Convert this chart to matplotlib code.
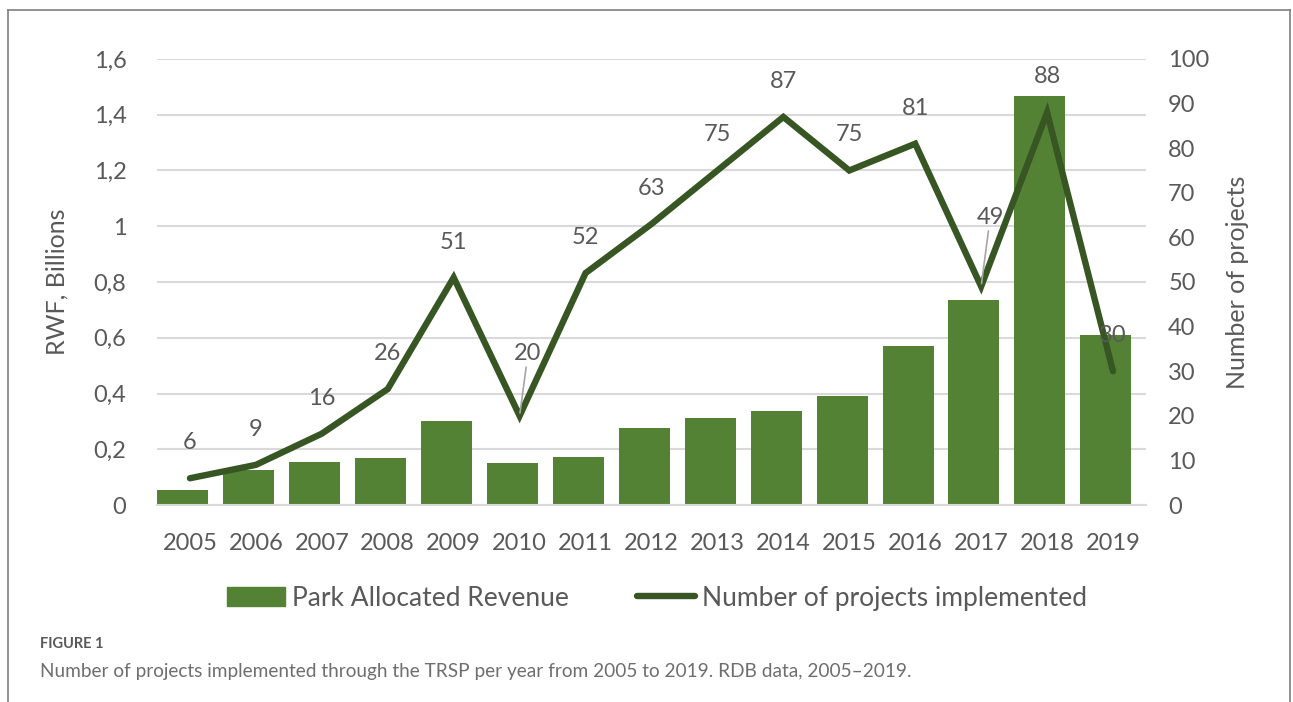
import matplotlib.pyplot as plt
from matplotlib.lines import Line2D
from matplotlib.patches import Patch
from matplotlib.ticker import FuncFormatter

plt.rcParams['font.family'] = ['Lato', 'DejaVu Sans']

years = ['2005', '2006', '2007', '2008', '2009', '2010', '2011', '2012',
         '2013', '2014', '2015', '2016', '2017', '2018', '2019']
revenue = [0.054, 0.126, 0.154, 0.169, 0.301, 0.151, 0.172, 0.276,
           0.312, 0.337, 0.391, 0.570, 0.735, 1.467, 0.610]
projects = [6, 9, 16, 26, 51, 20, 52, 63, 75, 87, 75, 81, 49, 88, 30]

bar_color = '#548235'
line_color = '#375623'
text_color = '#595959'
grid_color = '#d9d9d9'

fig = plt.figure(figsize=(12.93, 7.02), dpi=100)
rect = [0.1214, 0.2806, 0.7649, 0.6354]

# bars (primary axis) - slightly shifted left like the original Excel chart
ax = fig.add_axes(rect)
x = range(len(years))
ax.bar(x, revenue, width=0.773, color=bar_color, zorder=2)
ax.set_ylim(0, 1.6)
ax.set_xlim(-0.391, len(years) - 0.391)
ax.set_yticks([0, 0.2, 0.4, 0.6, 0.8, 1.0, 1.2, 1.4, 1.6])
ax.yaxis.set_major_formatter(FuncFormatter(
    lambda v, p: '0' if v == 0 else ('1' if abs(v - 1) < 1e-9 else f'{v:.1f}'.replace('.', ','))))
ax.set_xticks([])
ax.grid(axis='y', color=grid_color, linewidth=1.5, zorder=0)
ax.set_axisbelow(True)
for s in ['top', 'right', 'left']:
    ax.spines[s].set_visible(False)
ax.spines['bottom'].set_color(grid_color)
ax.spines['bottom'].set_linewidth(1.5)
ax.tick_params(axis='both', length=0, labelsize=17, labelcolor=text_color)
ax.tick_params(axis='y', pad=22)
ax.set_ylabel('RWF, Billions', fontsize=18, color=text_color, labelpad=18)

# line (secondary axis)
ax2 = fig.add_axes(rect)
ax2.patch.set_visible(False)
ax2.plot(x, projects, color=line_color, linewidth=4.6, solid_joinstyle='miter',
         solid_capstyle='round', zorder=3)
ax2.set_xlim(-0.5, len(years) - 0.5)
ax2.set_ylim(0, 100)
ax2.set_yticks(range(0, 101, 10))
ax2.set_xticks(list(x))
ax2.set_xticklabels(years)
ax2.yaxis.tick_right()
ax2.yaxis.set_label_position('right')
for s in ['top', 'right', 'left', 'bottom']:
    ax2.spines[s].set_visible(False)
ax2.tick_params(axis='both', length=0, labelsize=17, labelcolor=text_color)
ax2.tick_params(axis='y', pad=16)
ax2.tick_params(axis='x', pad=20)
ax2.set_ylabel('Number of projects', fontsize=18, color=text_color, labelpad=12)

leader = {5: (6, 37), 12: (6.5, 42)}
for i, v in enumerate(projects):
    if i in leader:
        dx, dy = leader[i]
        ax2.annotate(str(v), (i, v), xytext=(dx, dy), textcoords='offset points',
                     ha='center', va='bottom', fontsize=17, color=text_color,
                     arrowprops=dict(arrowstyle='-', color='#a6a6a6', lw=1.2,
                                     shrinkA=0, shrinkB=2))
    else:
        ax2.annotate(str(v), (i, v), xytext=(0, 18), textcoords='offset points',
                     ha='center', va='bottom', fontsize=17, color=text_color)

handles = [Patch(color=bar_color),
           Line2D([0], [0], color=line_color, linewidth=4.6, solid_capstyle='round')]
fig.legend(handles, ['Park Allocated Revenue', 'Number of projects implemented'],
           loc='center', bbox_to_anchor=(0.508, 0.148), ncol=2, frameon=False,
           fontsize=19, labelcolor=text_color, handlelength=2.2, handletextpad=0.25,
           columnspacing=2.6)

fig.text(0.031, 0.077, 'FIGURE 1', fontsize=10.5, color=text_color, fontweight='bold')
fig.text(0.031, 0.036, 'Number of projects implemented through the TRSP per year from 2005 to 2019. RDB data, 2005\u20132019.',
         fontsize=13.7, color='#6e6e6e')

border = '#7f7f7f'
fig.add_artist(Line2D([0.006, 0.998], [0.986, 0.986], color=border, lw=1.2))
fig.add_artist(Line2D([0.006, 0.006], [0.0, 0.986], color=border, lw=1.2))
fig.add_artist(Line2D([0.998, 0.998], [0.0, 0.986], color=border, lw=1.2))

fig.savefig('out.png', dpi=100)
